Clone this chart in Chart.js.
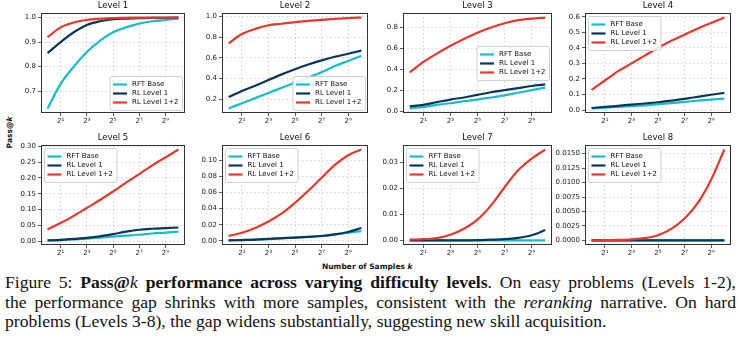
<!DOCTYPE html>
<html>
<head>
<meta charset="utf-8">
<script src="https://cdn.jsdelivr.net/npm/chart.js@4.4.1/dist/chart.umd.min.js"></script>
<style>
  body { margin: 0; background: #fff; width: 740px; height: 345px; position: relative; overflow: hidden; font-family: "DejaVu Sans", sans-serif; }
  .panel { position: absolute; }
  .axis-label { position: absolute; font: bold 7.5px "DejaVu Sans"; color: #111; white-space: nowrap; }
  .cap { position: absolute; left: 5px; width: 731px; font: 17.6px "Liberation Serif", serif; color: #111;
         text-align: justify; text-align-last: justify; white-space: nowrap; line-height: 20px; }
  .cap.last { text-align-last: left; }
</style>
</head>
<body>
<div class="axis-label" style="left:-6px;top:128px;transform:rotate(-90deg);transform-origin:center">Pass@<i>k</i></div>
<div class="axis-label" style="left:322px;top:262px">Number of Samples <i>k</i></div>

<div class="cap" style="top:272px">Figure 5: <b>Pass@<i style="font-weight:normal">k</i> performance across varying difficulty levels</b>. On easy problems (Levels 1-2),</div>
<div class="cap" style="top:292px">the performance gap shrinks with more samples, consistent with the <i>reranking</i> narrative. On hard</div>
<div class="cap last" style="top:311px">problems (Levels 3-8), the gap widens substantially, suggesting new skill acquisition.</div>

<script>
const samples      = [1, 2, 4, 8, 16, 32, 64, 128, 256, 512, 1024]
const xTickValues  = [2, 8, 32, 128, 512]
const xTickLabels  = ['2¹', '2³', '2⁵', '2⁷', '2⁹']
const seriesNames  = ['RFT Base', 'RL Level 1', 'RL Level 1+2']
const seriesColors = ['#1ABCC6', '#0C3558', '#E3392D']

// Level 1
const level1Rft  = [0.63, 0.73, 0.80, 0.86, 0.905, 0.94, 0.96, 0.975, 0.985, 0.99, 0.995]
const level1Rl1  = [0.855, 0.90, 0.94, 0.97, 0.985, 0.993, 0.996, 0.998, 0.999, 0.999, 1.0]
const level1Rl12 = [0.92, 0.96, 0.98, 0.99, 0.995, 0.998, 0.999, 1.0, 1.0, 1.0, 1.0]
const level1Ticks = ['0.7', '0.8', '0.9', '1.0']

// Level 2
const level2Rft  = [0.11, 0.16, 0.21, 0.26, 0.31, 0.36, 0.41, 0.46, 0.52, 0.57, 0.62]
const level2Rl1  = [0.22, 0.28, 0.33, 0.385, 0.44, 0.49, 0.535, 0.575, 0.61, 0.64, 0.67]
const level2Rl12 = [0.74, 0.83, 0.88, 0.915, 0.93, 0.945, 0.957, 0.968, 0.977, 0.985, 0.99]
const level2Ticks = ['0.2', '0.4', '0.6', '0.8', '1.0']

// Level 3
const level3Rft  = [0.025, 0.04, 0.06, 0.075, 0.095, 0.11, 0.13, 0.15, 0.175, 0.2, 0.225]
const level3Rl1  = [0.045, 0.06, 0.085, 0.11, 0.13, 0.155, 0.18, 0.2, 0.22, 0.24, 0.255]
const level3Rl12 = [0.37, 0.47, 0.55, 0.625, 0.69, 0.75, 0.80, 0.84, 0.87, 0.885, 0.895]
const level3Ticks = ['0.0', '0.2', '0.4', '0.6', '0.8']

// Level 4
const level4Rft  = [0.01, 0.015, 0.02, 0.025, 0.03, 0.037, 0.044, 0.052, 0.06, 0.067, 0.073]
const level4Rl1  = [0.013, 0.02, 0.027, 0.035, 0.042, 0.05, 0.06, 0.072, 0.085, 0.098, 0.11]
const level4Rl12 = [0.13, 0.19, 0.25, 0.30, 0.35, 0.40, 0.445, 0.485, 0.525, 0.56, 0.595]
const level4Ticks = ['0.0', '0.1', '0.2', '0.3', '0.4', '0.5', '0.6']

// Level 5
const level5Rft  = [0.002, 0.003, 0.005, 0.008, 0.011, 0.014, 0.017, 0.02, 0.024, 0.027, 0.03]
const level5Rl1  = [0.002, 0.004, 0.007, 0.01, 0.015, 0.022, 0.03, 0.036, 0.039, 0.041, 0.043]
const level5Rl12 = [0.037, 0.057, 0.08, 0.105, 0.13, 0.157, 0.185, 0.212, 0.24, 0.265, 0.29]
const level5Ticks = ['0.00', '0.05', '0.10', '0.15', '0.20', '0.25', '0.30']

// Level 6
const level6Rft  = [0.0005, 0.001, 0.0015, 0.002, 0.003, 0.004, 0.005, 0.006, 0.008, 0.01, 0.012]
const level6Rl1  = [0.0005, 0.001, 0.0015, 0.0025, 0.0035, 0.004, 0.005, 0.006, 0.008, 0.011, 0.016]
const level6Rl12 = [0.006, 0.01, 0.016, 0.024, 0.034, 0.047, 0.062, 0.078, 0.094, 0.106, 0.113]
const level6Ticks = ['0.00', '0.02', '0.04', '0.06', '0.08', '0.10']

// Level 7
const level7Rft  = [0, 0, 0, 0, 0, 0, 0, 0, 0, 0, 0]
const level7Rl1  = [0, 0, 0, 0, 0, 0.0001, 0.0003, 0.0005, 0.001, 0.002, 0.004]
const level7Rl12 = [0.0003, 0.0005, 0.0009, 0.0022, 0.0045, 0.008, 0.0135, 0.0205, 0.027, 0.0315, 0.035]
const level7Ticks = ['0.00', '0.01', '0.02', '0.03']

// Level 8
const level8Rft  = [0, 0, 0, 0, 0, 0, 0, 0, 0, 0, 0]
const level8Rl1  = [0, 0, 0, 0, 0, 0, 0, 0, 0, 0, 0]
const level8Rl12 = [0.00001, 0.00005, 0.0001, 0.0002, 0.0004, 0.0009, 0.002, 0.0038, 0.0065, 0.0105, 0.0157]
const level8Ticks = ['0.0000', '0.0025', '0.0050', '0.0075', '0.0100', '0.0125', '0.0150']

const levels = [
  { title: 'Level 1', series: [level1Rft, level1Rl1, level1Rl12], ticks: level1Ticks, legend: 'lower right' },
  { title: 'Level 2', series: [level2Rft, level2Rl1, level2Rl12], ticks: level2Ticks, legend: 'lower right' },
  { title: 'Level 3', series: [level3Rft, level3Rl1, level3Rl12], ticks: level3Ticks, legend: 'center right' },
  { title: 'Level 4', series: [level4Rft, level4Rl1, level4Rl12], ticks: level4Ticks, legend: 'upper left' },
  { title: 'Level 5', series: [level5Rft, level5Rl1, level5Rl12], ticks: level5Ticks, legend: 'upper left' },
  { title: 'Level 6', series: [level6Rft, level6Rl1, level6Rl12], ticks: level6Ticks, legend: 'upper left' },
  { title: 'Level 7', series: [level7Rft, level7Rl1, level7Rl12], ticks: level7Ticks, legend: 'upper left' },
  { title: 'Level 8', series: [level8Rft, level8Rl1, level8Rl12], ticks: level8Ticks, legend: 'upper left' }
]

// plot-area boxes: left, top, width (height is shared)
const BOXES = [
  [41, 13, 144], [222, 13, 146], [403, 13, 149], [585, 13, 146],
  [41, 145, 144], [222, 145, 146], [403, 145, 149], [585, 145, 146]
]
const YW = 40, PT = 13, PR = 6, XH = 16, PH = 100
const FONT = '"DejaVu Sans"'

// frame, title and matplotlib-style legend inside the axes
const panelPlugin = {
  id: 'panel',
  afterDatasetsDraw(chart, args, opts) {
    const { ctx, chartArea: a } = chart
    ctx.save()
    ctx.strokeStyle = '#333'
    ctx.lineWidth = 1
    ctx.strokeRect(Math.round(a.left) + 0.5, Math.round(a.top) + 0.5, Math.round(a.width) - 1, Math.round(a.height) - 1)

    ctx.fillStyle = '#111'
    ctx.font = `8.5px ${FONT}`
    ctx.textAlign = 'center'
    ctx.textBaseline = 'middle'
    ctx.fillText(opts.title, (a.left + a.right) / 2, a.top - 7)

    const items = chart.data.datasets
    ctx.font = `7px ${FONT}`
    const textW = Math.max(...items.map(d => ctx.measureText(d.label).width))
    const lineLen = 14, gap = 5, pad = 3.5, rowH = 9
    const bw = pad + lineLen + gap + textW + pad
    const bh = pad * 2 + rowH * items.length
    let bx, by
    if (opts.legend === 'upper left') { bx = a.left + 3; by = a.top + 3 }
    else if (opts.legend === 'lower right') { bx = a.right - 3 - bw; by = a.bottom - 3 - bh }
    else { bx = a.right - 3 - bw; by = (a.top + a.bottom) / 2 - bh / 2 }

    ctx.beginPath()
    ctx.roundRect(bx + 0.5, by + 0.5, bw, bh, 2)
    ctx.fillStyle = 'rgba(255,255,255,0.85)'
    ctx.fill()
    ctx.strokeStyle = '#d0d0d0'
    ctx.stroke()

    ctx.textAlign = 'left'
    items.forEach((d, i) => {
      const y = by + pad + rowH * i + rowH / 2 + 0.5
      ctx.strokeStyle = d.borderColor
      ctx.lineWidth = 2.2
      ctx.beginPath()
      ctx.moveTo(bx + pad, y)
      ctx.lineTo(bx + pad + lineLen, y)
      ctx.stroke()
      ctx.fillStyle = '#111'
      ctx.fillText(d.label, bx + pad + lineLen + gap, y)
    })
    ctx.restore()
  }
}

function makeChart(lv, [left, top, w]) {
  const wrap = document.createElement('div')
  wrap.className = 'panel'
  wrap.style.left   = (left - YW) + 'px'
  wrap.style.top    = (top - PT) + 'px'
  wrap.style.width  = (YW + w + PR) + 'px'
  wrap.style.height = (PT + PH + XH) + 'px'
  const canvas = document.createElement('canvas')
  wrap.appendChild(canvas)
  document.body.appendChild(wrap)

  const yVals = lv.ticks.map(Number)
  const all = lv.series.flat()
  const lo = Math.min(...all), hi = Math.max(...all)
  const margin = (hi - lo) * 0.05

  const gridStyle = { color: 'rgba(0,0,0,0.16)', lineWidth: 0.8, tickColor: '#333', tickLength: 3, drawTicks: true }

  new Chart(canvas, {
    type: 'line',
    data: {
      datasets: lv.series.map((vals, i) => ({
        label: seriesNames[i],
        data: samples.map((k, j) => ({ x: k, y: vals[j] })),
        borderColor: seriesColors[i],
        borderWidth: 2.2,
        pointRadius: 0,
        cubicInterpolationMode: 'monotone',
        fill: false,
        order: 3 - i
      }))
    },
    options: {
      responsive: true,
      maintainAspectRatio: false,
      animation: false,
      layout: { padding: { top: PT, right: PR, left: 0, bottom: 0 }, autoPadding: false },
      plugins: {
        legend: { display: false },
        tooltip: { enabled: false },
        panel: { title: lv.title, legend: lv.legend }
      },
      scales: {
        x: {
          type: 'logarithmic',
          bounds: 'data',
          min: Math.pow(2, -0.5),
          max: Math.pow(2, 10.5),
          afterBuildTicks: s => { s.ticks = xTickValues.map(v => ({ value: v })) },
          afterFit: s => { s.height = XH },
          ticks: {
            autoSkip: false, maxRotation: 0, padding: 1, color: '#222',
            font: { family: 'DejaVu Sans', size: 7 },
            callback: v => xTickLabels[xTickValues.indexOf(v)] ?? ''
          },
          grid: { ...gridStyle, borderDash: [2, 2] },
          border: { display: false, dash: [2, 2] }
        },
        y: {
          bounds: 'data',
          min: lo - margin,
          max: hi + margin,
          afterBuildTicks: s => { s.ticks = yVals.map(v => ({ value: v })) },
          afterFit: s => { s.width = YW },
          ticks: {
            padding: 2, color: '#222',
            font: { family: 'DejaVu Sans', size: 7 },
            callback: v => lv.ticks[yVals.indexOf(v)] ?? ''
          },
          grid: { ...gridStyle, borderDash: [2, 2] },
          border: { display: false, dash: [2, 2] }
        }
      }
    },
    plugins: [panelPlugin]
  })
}

levels.forEach((lv, i) => makeChart(lv, BOXES[i]))
</script>
</body>
</html>
